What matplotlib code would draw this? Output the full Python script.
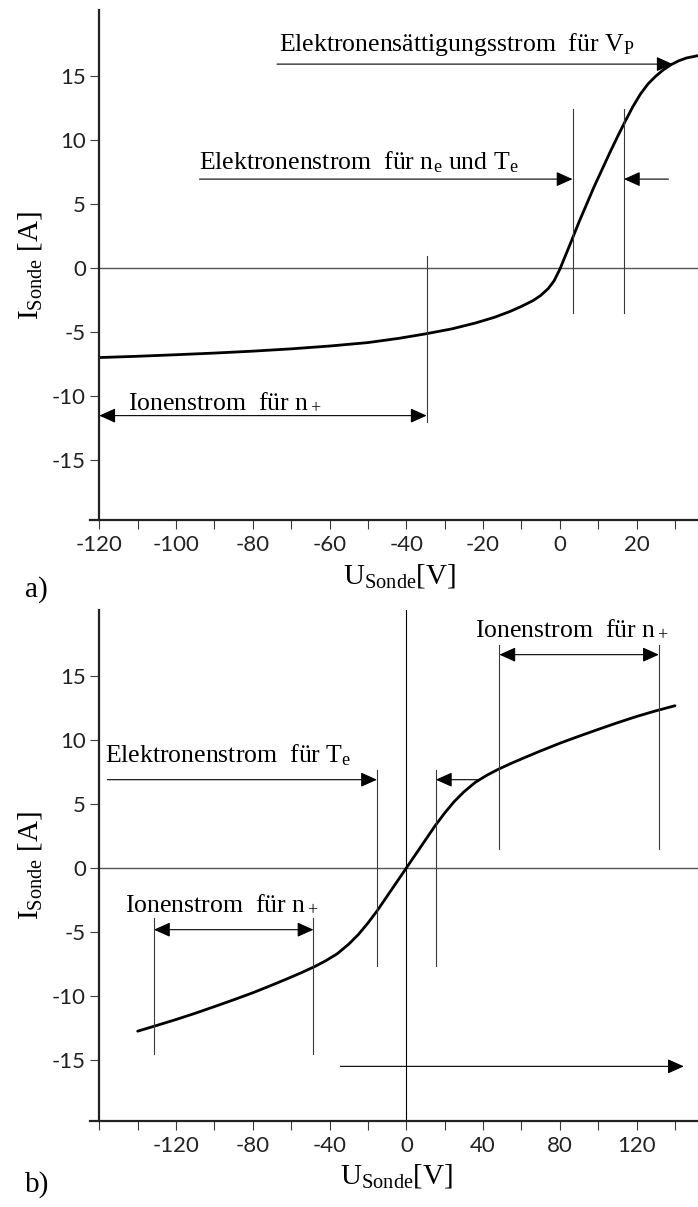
import matplotlib
matplotlib.use('Agg')
import matplotlib.pyplot as plt

plt.rcParams['font.family'] = ['Liberation Serif', 'DejaVu Serif']
plt.rcParams['mathtext.fontset'] = 'custom'
plt.rcParams['mathtext.rm'] = 'Liberation Serif'
plt.rcParams['mathtext.it'] = 'Liberation Serif:italic'

# a) Einzelsonde: Kennlinie
u_a = [-120, -110, -100, -90, -80, -70, -60, -50, -42, -35, -28, -22, -17,
       -13, -10, -7, -5, -3, -1.5, 0, 1.5, 3, 5, 7, 9, 11, 13, 15, 17, 19,
       21, 23, 25, 27, 29, 31, 33, 36]
i_a = [-7.0, -6.9, -6.78, -6.65, -6.5, -6.32, -6.1, -5.83, -5.5, -5.15,
       -4.75, -4.3, -3.85, -3.4, -3.0, -2.55, -2.15, -1.6, -1.0, -0.1, 1.0,
       2.1, 3.6, 5.0, 6.4, 7.7, 9.0, 10.25, 11.45, 12.6, 13.6, 14.4, 15.0,
       15.5, 15.9, 16.2, 16.42, 16.6]

# b) Doppelsonde: Kennlinie
u_b = [-140, -130, -120, -110, -100, -90, -80, -70, -62, -55, -48, -42, -36,
       -30, -25, -20, -15, -10, -5, 0, 5, 10, 15, 20, 25, 30, 36, 42, 48, 55,
       62, 70, 80, 90, 100, 110, 120, 130, 140]
i_b = [-12.75, -12.3, -11.84, -11.35, -10.83, -10.3, -9.75, -9.15, -8.65,
       -8.2, -7.72, -7.25, -6.7, -5.95, -5.2, -4.3, -3.3, -2.2, -1.1, 0,
       1.1, 2.2, 3.3, 4.3, 5.2, 5.95, 6.7, 7.25, 7.72, 8.2, 8.65, 9.15, 9.75,
       10.3, 10.83, 11.35, 11.84, 12.28, 12.68]

xticks_a = list(range(-120, 31, 10))
xlabels_a = [str(t) if t % 20 == 0 else '' for t in xticks_a]
xticks_b = list(range(-160, 141, 20))
xlabels_b = [str(t) if t % 40 == 0 and t != -160 else '' for t in xticks_b]
yticks = [-15, -10, -5, 0, 5, 10, 15]

TXT = 18.5
LBL = 21
DARK = '#222222'
THIN = '#3a3a3a'


def style_axes(ax, x0, xlim, ylim, xticks, xlabels):
    ax.set_xlim(*xlim)
    ax.set_ylim(*ylim)
    for s in ['top', 'right']:
        ax.spines[s].set_visible(False)
    ax.spines['left'].set_position(('data', x0))
    for s in ['left', 'bottom']:
        ax.spines[s].set_linewidth(1.6)
        ax.spines[s].set_color(DARK)
    ax.set_xticks(xticks)
    ax.set_xticklabels(xlabels)
    ax.set_yticks(yticks)
    ax.set_yticklabels([str(t) for t in yticks])
    ax.tick_params(direction='out', length=6.5, width=0.8, color=THIN,
                   labelsize=16, labelcolor=DARK)
    ax.tick_params(axis='x', pad=4)
    ax.tick_params(axis='y', pad=3)
    for lab in ax.get_xticklabels() + ax.get_yticklabels():
        lab.set_family('Lato')
    ax.hlines(0, x0, xlim[1], color='#555555', lw=1.0)


def arrow(ax, start, end, both=False):
    style = '<|-|>' if both else '-|>'
    ax.annotate('', xy=end, xytext=start,
                arrowprops=dict(arrowstyle=style + ',head_length=1.0,head_width=0.45',
                                mutation_scale=10, color='black', lw=0.8,
                                shrinkA=0, shrinkB=0))


def vline(ax, x, y0, y1):
    ax.plot([x, x], [y0, y1], color=THIN, lw=0.8)


fig = plt.figure(figsize=(6.98, 12.07), dpi=100)

# ---- a) ----
ax1 = fig.add_axes([90 / 698, 1 - 520 / 1207, 608 / 698, 510 / 1207])
style_axes(ax1, -120, (-122.42, 36.0), (-19.7, 20.17), xticks_a, xlabels_a)
ax1.plot(u_a, i_a, color='black', lw=2.0, solid_capstyle='round',
         solid_joinstyle='round')

arrow(ax1, (-73.7, 15.94), (29.4, 15.94))
ax1.text(-73.3, 16.98, r'Elektronensättigungsstrom  für $\mathrm{V_P}$',
         fontsize=TXT, va='baseline', ha='left')

vline(ax1, 3.3, -3.55, 12.45)
vline(ax1, 16.7, -3.55, 12.45)
arrow(ax1, (-93.9, 6.95), (3.3, 6.95))
arrow(ax1, (28.3, 6.95), (16.7, 6.95))
ax1.text(-93.9, 7.73, r'Elektronenstrom  für $\mathrm{n_e}$ und $\mathrm{T_e}$',
         fontsize=TXT, va='baseline', ha='left')

vline(ax1, -34.7, -12.06, 0.96)
arrow(ax1, (-34.7, -11.54), (-120, -11.54), both=True)
ax1.text(-112.4, -11.0, r'Ionenstrom  für $\mathrm{n_+}$',
         fontsize=TXT, va='baseline', ha='left')

# ---- b) ----
ax2 = fig.add_axes([90 / 698, 1 - 1121 / 1207, 608 / 698, 511 / 1207])
style_axes(ax2, -160, (-164.85, 152.0), (-19.77, 20.16), xticks_b, xlabels_b)
ax2.axvline(0, color='black', lw=0.8)
ax2.plot(u_b, i_b, color='black', lw=2.0, solid_capstyle='round',
         solid_joinstyle='round')

vline(ax2, -15.3, -7.69, 7.68)
vline(ax2, 15.4, -7.69, 7.68)
arrow(ax2, (-155.8, 6.9), (-15.3, 6.9))
arrow(ax2, (38.4, 6.9), (15.4, 6.9))
ax2.text(-157, 8.28, r'Elektronenstrom  für $\mathrm{T_e}$',
         fontsize=TXT, va='baseline', ha='left')

vline(ax2, 48.5, 1.48, 17.45)
vline(ax2, 131.6, 1.48, 17.45)
arrow(ax2, (48.5, 16.67), (131.6, 16.67), both=True)
ax2.text(36.0, 18.2, r'Ionenstrom  für $\mathrm{n_+}$',
         fontsize=TXT, va='baseline', ha='left')

vline(ax2, -131.5, -3.9, -14.5)
vline(ax2, -48.4, -3.9, -14.5)
arrow(ax2, (-131.5, -4.82), (-48.4, -4.82), both=True)
ax2.text(-146.6, -3.3, r'Ionenstrom  für $\mathrm{n_+}$',
         fontsize=TXT, va='baseline', ha='left')

arrow(ax2, (-34.4, -15.5), (144.6, -15.5))

# Achsenbeschriftungen und Teilbild-Marken
for ax in (ax1, ax2):
    pos = ax.get_position()
    fig.text(30 / 698, pos.y0 + pos.height / 2, r'$\mathrm{I_{Sonde}}$ [A]',
             fontsize=LBL, rotation=90, ha='center', va='center')
fig.text(343 / 698, 1 - 583 / 1207, r'$\mathrm{U_{Sonde}}$[V]',
         fontsize=LBL, ha='left', va='baseline')
fig.text(340 / 698, 1 - 1183 / 1207, r'$\mathrm{U_{Sonde}}$[V]',
         fontsize=LBL, ha='left', va='baseline')
fig.text(25 / 698, 1 - 597 / 1207, 'a)', fontsize=LBL, ha='left', va='baseline')
fig.text(25 / 698, 1 - 1192 / 1207, 'b)', fontsize=LBL, ha='left', va='baseline')

fig.savefig('out.png', dpi=100)
